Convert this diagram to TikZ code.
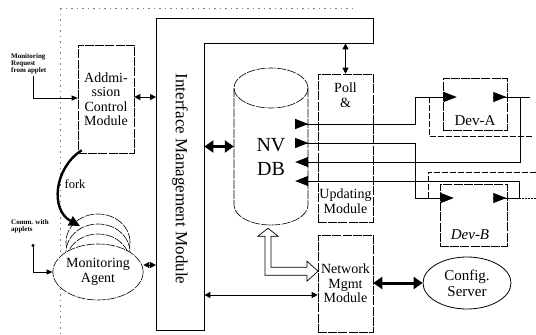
\documentclass[tikz,border=0pt]{standalone}
\usepackage{fontspec}
\setmainfont{Liberation Serif}
\usetikzlibrary{arrows.meta,decorations.markings,calc,shapes.geometric}
\begin{document}
\begin{tikzpicture}[x=1pt,y=-1pt,
  box/.style={draw, dash pattern=on 9pt off 1.2pt, line width=0.6pt, inner sep=0pt, align=center},
  lbl/.style={font=\fontsize{14}{14.5}\selectfont, align=center, inner sep=0pt},
  small/.style={font=\fontsize{7}{7.2}\selectfont\bfseries, align=left, inner sep=0pt},
  conn/.style={line width=0.7pt},
  dbl/.style={{Triangle[length=6pt,width=6pt]}-{Triangle[length=6pt,width=6pt]}, line width=1pt},
  tdbl/.style={{Triangle[length=9pt,width=12pt]}-{Triangle[length=9pt,width=12pt]}, line width=3pt},
  bigtip/.style={-{Triangle[length=13pt,width=10pt]}},
  startarr/.style={postaction={decorate,decoration={markings,mark=at position 13pt with {\arrow{Triangle[length=13pt,width=10pt]}}}}},
  frame/.style={gray, line width=0.5pt, dash pattern=on 1.5pt off 4pt},
  shadow/.style={line width=0.6pt, dash pattern=on 6pt off 2pt}
]
\useasboundingbox (0,0) rectangle (536,335);

% outer dotted frame
\draw[frame] (60,8) -- (355,8);
\draw[frame] (60,8) -- (60,335);

% Interface Management Module (inverted L)
\node[minimum width=48pt, minimum height=312pt, inner sep=0pt, anchor=north west] (immv) at (156,18) {};
\node[minimum width=217pt, minimum height=25pt, inner sep=0pt, anchor=north west] (immh) at (156,18) {};
\draw[line width=0.9pt] (immv.south west) -- (immh.north west) -- (immh.north east) -- (immh.south east)
  -- (immv.east |- immh.south) -- (immv.south east) -- cycle;
\node[rotate=-90, font=\fontsize{17}{17}\selectfont, inner sep=0pt] (immt) at (180,179) {Interface Management Module};

% Admission control
\node[box, lbl, minimum width=56pt, minimum height=108pt] (adm) at (106,99) {Addmi-\\ssion\\Control\\Module};

% Monitoring agent (stacked)
\foreach \d in {30,20,10} {
  \draw[line width=0.6pt, dash pattern=on 9pt off 1.2pt, fill=white] (98,272-\d) ellipse [x radius=32pt, y radius=28pt];
}
\node[draw, ellipse, line width=0.6pt, dash pattern=on 9pt off 1.2pt, fill=white, minimum width=64pt, minimum height=56pt, inner sep=0pt, lbl] (ma) at (98,272) {Monitoring\\Agent};

% small texts
\node[small, anchor=west] (mreq) at (11,64) {Monitoring\\Request\\from applet};
\node[small, anchor=west] (comm) at (11,226) {Comm. with\\applets};

% NV DB cylinder
\node[minimum width=74pt, minimum height=157pt, inner sep=0pt] (db) at (271,146.5) {};
\draw[line width=0.6pt, dash pattern=on 9pt off 1.2pt] (234,88) -- (234,205) arc[start angle=180, end angle=360, x radius=37pt, y radius=20pt] -- (308,88);
\draw[line width=0.6pt, dash pattern=on 9pt off 1.2pt] (271,88) ellipse [x radius=37pt, y radius=20pt];
\node[font=\fontsize{20}{24}\selectfont, align=center, inner sep=0pt] (dbt) at (271,157) {NV\\DB};
\coordinate (dbR) at ([xshift=-13pt]db.east);

% Poll & Updating
\node[box, minimum width=55pt, minimum height=148pt] (poll) at (345.5,148) {};
\node[lbl] (pollt) at (345.5,95) {Poll\\\&};
\node[lbl] (updt) at (345.5,201) {Updating\\Module};

% Network Mgmt
\node[box, lbl, minimum width=55pt, minimum height=97pt] (nmm) at (345.5,283.5) {Network\\Mgmt\\Module};

% Config server
\node[draw, ellipse, line width=0.8pt, minimum width=88pt, minimum height=52pt, inner sep=0pt, align=center, font=\fontsize{15}{16}\selectfont] (cfg) at (467,283) {Config.\\Server};

% Devices
\node[box, minimum width=64pt, minimum height=52pt] (devA) at (475,104) {};
\node[font=\fontsize{15}{15}\selectfont, inner sep=0pt] (devAt) at (475,121) {Dev-A};
\node[box, minimum width=67pt, minimum height=62pt] (devB) at (473.5,215) {};
\node[font=\fontsize{15}{15}\selectfont\itshape, inner sep=0pt] (devBt) at (470,235) {Dev-B};
\draw[shadow] (429,97) -- (429,136) -- (533,136);
\draw[shadow] (428,198) -- (428,172) -- (536,172);

% connectors to IMM
\draw[dbl] (adm.east |- 0,97) -- (immv.west |- 0,97);
\draw[dbl] (ma.east |- 0,265) -- (immv.west |- 0,265);
\draw[tdbl] (immv.east |- db.west) -- (db.west);
\draw[dbl] (poll.north |- immh.south) -- (poll.north);
\draw[dbl] (immv.east |- 0,295) -- (nmm.west |- 0,295);
\draw[tdbl] (nmm.east |- cfg.west) -- (cfg.west);

% applet inputs
\draw[conn, -{Triangle[length=6pt,width=5pt]}] (33,76) |- (adm.west |- 0,98);
\draw[conn, {Circle[length=3pt]}-{Triangle[length=6pt,width=5pt]}] (33,244) |- (ma.west);

% fork
\draw[line width=2.4pt, -{Triangle[length=11pt,width=10pt]}] ($(adm.south west)+(4,-3)$) .. controls (54,168) and (50,210) .. (80,226);
\node[font=\fontsize{12.5}{12.5}\selectfont, inner sep=0pt] (fork) at (75,184) {fork};

% hollow arrow DB <-> NMM
\begin{scope}[shift={($(db.south)+(-3,3)$)}]
\draw[line width=0.7pt, fill=white] (0,0) -- (10,8) -- (3,8) -- (3,39) -- (39,39) -- (39,33) -- (50,43) -- (39,53) -- (39,47) -- (-3,47) -- (-3,8) -- (-10,8) -- cycle;
\end{scope}

% DB <-> devices
\draw[conn, startarr, bigtip] (dbR |- 0,124) -- (415,124) -- (415,97) -- ([xshift=14pt]devA.west |- 0,97);
\draw[conn, startarr, bigtip] ([xshift=-14pt]devA.east |- 0,97) -- (520,97) -- (520,162) -- (dbR |- 0,162);
\draw[conn, startarr, bigtip] (dbR |- 0,143) -- (415,143) -- (415,198) -- ([xshift=14pt]devB.west |- 0,198);
\draw[conn, startarr, bigtip] ([xshift=-14pt]devB.east |- 0,198) -- (519,198) -- (519,181) -- (dbR |- 0,181);
\draw[conn] (520,97) -- (530,97);
\draw[conn, dash pattern=on 1.5pt off 1.5pt] (519,198) -- (536,198);
\end{tikzpicture}
\end{document}
